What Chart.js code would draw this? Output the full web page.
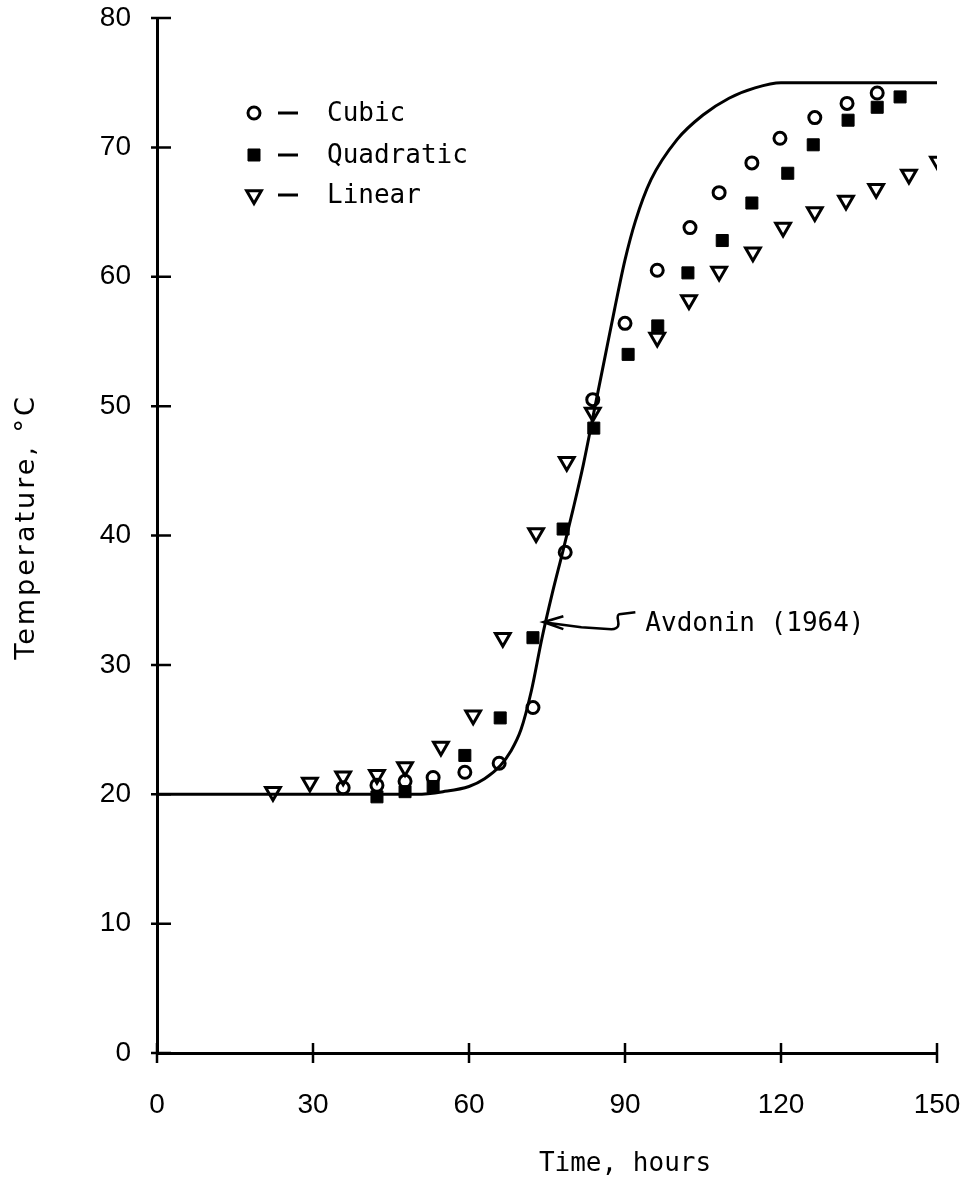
<!DOCTYPE html>
<html>
<head>
<meta charset="utf-8">
<title>Temperature vs time</title>
<script src="https://cdn.jsdelivr.net/npm/chart.js@4.4.1/dist/chart.umd.min.js"></script>
<style>
  html, body { margin: 0; padding: 0; background: #fff; overflow: hidden; }
  #wrap { width: 962px; height: 1179px; position: relative; }
</style>
</head>
<body>
<div id="wrap"><canvas id="tempChart"></canvas></div>
<script>
// --- dados ---
const xTicks = [0, 30, 60, 90, 120, 150];
const yTicks = [0, 10, 20, 30, 40, 50, 60, 70, 80];

// curva Avdonin (1964)
const avdoninHours = [0, 20, 40, 50, 55, 60, 63, 66, 68, 70, 72, 74, 76, 78, 80, 82, 84, 86, 88, 90, 92, 95, 100, 105, 110, 115, 120, 130, 140, 150];
const avdoninTemp  = [20, 20, 20, 20, 20.2, 20.6, 21.2, 22.2, 23.3, 25, 28, 32, 35.5, 38.7, 42, 45.5, 49.5, 53.5, 57.5, 61.3, 64.3, 67.5, 70.6, 72.5, 73.8, 74.6, 75, 75, 75, 75];

// Cubic (círculos)
const cubicHours = [35.8, 42.3, 47.7, 53.1, 59.2, 65.8, 72.3, 78.5, 83.8, 90.0, 96.2, 102.5, 108.1, 114.4, 119.8, 126.5, 132.7, 138.5];
const cubicTemp  = [20.5, 20.7, 21.0, 21.3, 21.7, 22.4, 26.7, 38.7, 50.5, 56.4, 60.5, 63.8, 66.5, 68.8, 70.7, 72.3, 73.4, 74.2];

// Quadratic (quadrados)
const quadHours = [42.3, 47.7, 53.1, 59.2, 66.0, 72.3, 78.1, 84.0, 90.6, 96.3, 102.1, 108.7, 114.4, 121.3, 126.2, 132.9, 138.5, 142.9];
const quadTemp  = [19.8, 20.2, 20.6, 23.0, 25.9, 32.1, 40.5, 48.3, 54.0, 56.2, 60.3, 62.8, 65.7, 68.0, 70.2, 72.1, 73.1, 73.9];

// Linear (triângulos)
const linHours = [22.3, 29.4, 35.8, 42.3, 47.7, 54.6, 60.8, 66.5, 72.9, 78.8, 83.8, 96.2, 102.3, 108.1, 114.6, 120.4, 126.5, 132.5, 138.3, 144.6, 150.2];
const linTemp  = [20.2, 20.9, 21.4, 21.5, 22.1, 23.7, 26.1, 32.1, 40.2, 45.7, 49.5, 55.3, 58.2, 60.4, 61.9, 63.8, 65.0, 65.9, 66.8, 67.9, 68.9];

const legendNames = ['Cubic', 'Quadratic', 'Linear'];
const curveLabel = 'Avdonin (1964)';
const xTitle = 'Time, hours';
const yTitle = 'Temperature, °C';

function pares(xs, ys) {
    return xs.map((x, i) => ({ x: x, y: ys[i] }));
}

const monoFont = "'DejaVu Sans Mono', 'Liberation Mono', monospace";
const tickFont = "'Liberation Sans Narrow', 'Liberation Sans', sans-serif";

// marcas dos eixos cruzando a linha do eixo
const tickMarks = {
    id: 'tickMarks',
    afterDraw(chart) {
        const ctx = chart.ctx;
        const xs = chart.scales.x, ys = chart.scales.y;
        const area = chart.chartArea;
        ctx.save();
        ctx.strokeStyle = '#000';
        ctx.lineWidth = 2.5;
        ctx.beginPath();
        xTicks.forEach(v => {
            const px = xs.getPixelForValue(v);
            ctx.moveTo(px, area.bottom - 10);
            ctx.lineTo(px, area.bottom + 10);
        });
        yTicks.forEach(v => {
            const py = ys.getPixelForValue(v);
            ctx.moveTo(area.left - 6, py);
            ctx.lineTo(area.left + 14, py);
        });
        ctx.stroke();
        ctx.restore();
    }
};

// legenda, anotação e títulos dos eixos
const extras = {
    id: 'extras',
    afterDatasetsDraw(chart) {
        const ctx = chart.ctx;
        const xs = chart.scales.x, ys = chart.scales.y;
        ctx.save();

        // legenda
        const rows = [113, 155, 195];
        [1, 2, 3].forEach((dsIndex, i) => {
            const ds = chart.data.datasets[dsIndex];
            const y = rows[i];
            ctx.fillStyle = ds.backgroundColor;
            ctx.strokeStyle = '#000';
            ctx.lineWidth = ds.pointBorderWidth;
            Chart.helpers.drawPoint(ctx, {
                pointStyle: ds.pointStyle,
                rotation: ds.pointRotation || 0,
                radius: ds.pointRadius,
                borderWidth: ds.pointBorderWidth
            }, 254, y);
            ctx.beginPath();
            ctx.lineWidth = 3;
            ctx.moveTo(278, y);
            ctx.lineTo(298, y);
            ctx.stroke();
            ctx.fillStyle = '#000';
            ctx.font = "26px " + monoFont;
            ctx.textBaseline = 'middle';
            ctx.textAlign = 'left';
            ctx.fillText(legendNames[i], 327, y + 1);
        });

        // seta para a curva
        const tx = xs.getPixelForValue(74.3);
        const ty = ys.getPixelForValue(33.3);
        ctx.strokeStyle = '#000';
        ctx.lineWidth = 2.5;
        ctx.beginPath();
        ctx.moveTo(tx + 20, ty - 6);
        ctx.lineTo(tx, ty);
        ctx.lineTo(tx + 20, ty + 7);
        ctx.moveTo(tx, ty);
        ctx.lineTo(tx + 38, ty + 5);
        ctx.lineTo(tx + 68, ty + 7);
        ctx.bezierCurveTo(tx + 82, ty + 6, tx + 70, ty - 6, tx + 76, ty - 8);
        ctx.lineTo(tx + 92, ty - 10);
        ctx.stroke();

        ctx.fillStyle = '#000';
        ctx.font = "26px " + monoFont;
        ctx.textBaseline = 'middle';
        ctx.textAlign = 'left';
        ctx.fillText(curveLabel, tx + 102, ty + 2);

        // título do eixo x (deslocado para a direita como no original)
        ctx.font = "26px " + monoFont;
        ctx.textAlign = 'center';
        ctx.textBaseline = 'alphabetic';
        ctx.fillText(xTitle, xs.getPixelForValue(90), 1171);

        // título do eixo y, texto espaçado
        ctx.translate(27, 527);
        ctx.rotate(-Math.PI / 2);
        ctx.font = "27px 'DejaVu Sans', sans-serif";
        if ('letterSpacing' in ctx) ctx.letterSpacing = '3px';
        ctx.textAlign = 'center';
        ctx.textBaseline = 'middle';
        ctx.fillText(yTitle, 0, 0);
        ctx.restore();
    }
};

document.addEventListener('DOMContentLoaded', () => {
    const ctx = document.getElementById('tempChart').getContext('2d');

    new Chart(ctx, {
        type: 'scatter',
        data: {
            datasets: [
                {
                    label: curveLabel,
                    data: pares(avdoninHours, avdoninTemp),
                    showLine: true,
                    borderColor: '#000',
                    borderWidth: 3,
                    pointRadius: 0,
                    cubicInterpolationMode: 'monotone',
                    fill: false
                },
                {
                    label: legendNames[0],
                    data: pares(cubicHours, cubicTemp),
                    pointStyle: 'circle',
                    pointRadius: 6,
                    pointBorderWidth: 3,
                    borderColor: '#000',
                    backgroundColor: 'rgba(0,0,0,0)'
                },
                {
                    label: legendNames[1],
                    data: pares(quadHours, quadTemp),
                    pointStyle: 'rect',
                    pointRadius: 8.5,
                    pointBorderWidth: 1,
                    borderColor: '#000',
                    backgroundColor: '#000'
                },
                {
                    label: legendNames[2],
                    data: pares(linHours, linTemp),
                    pointStyle: 'triangle',
                    pointRotation: 180,
                    pointRadius: 8.5,
                    pointBorderWidth: 3,
                    borderColor: '#000',
                    backgroundColor: 'rgba(0,0,0,0)'
                }
            ]
        },
        options: {
            responsive: true,
            maintainAspectRatio: false,
            animation: false,
            layout: { padding: { top: 18, right: 25, left: 0, bottom: 0 } },
            plugins: {
                legend: { display: false },
                tooltip: { enabled: false }
            },
            scales: {
                x: {
                    type: 'linear',
                    min: 0,
                    max: 150,
                    afterBuildTicks: s => { s.ticks = xTicks.map(v => ({ value: v })); },
                    afterFit: s => {
                        s.height = 126;
                        s.paddingLeft = 0;
                        s.paddingRight = 0;
                    },
                    grid: { display: false },
                    border: { display: true, color: '#000', width: 3 },
                    ticks: {
                        color: '#000',
                        padding: 27,
                        maxRotation: 0,
                        font: { family: tickFont, size: 28 }
                    },
                    title: { display: false }
                },
                y: {
                    type: 'linear',
                    min: 0,
                    max: 80,
                    afterBuildTicks: s => { s.ticks = yTicks.map(v => ({ value: v })); },
                    afterFit: s => {
                        s.width = 157;
                        s.paddingTop = 0;
                        s.paddingBottom = 0;
                    },
                    grid: { display: false },
                    border: { display: true, color: '#000', width: 3 },
                    ticks: {
                        color: '#000',
                        padding: 18,
                        font: { family: tickFont, size: 28 }
                    },
                    title: { display: false }
                }
            }
        },
        plugins: [tickMarks, extras]
    });
});
</script>
</body>
</html>
